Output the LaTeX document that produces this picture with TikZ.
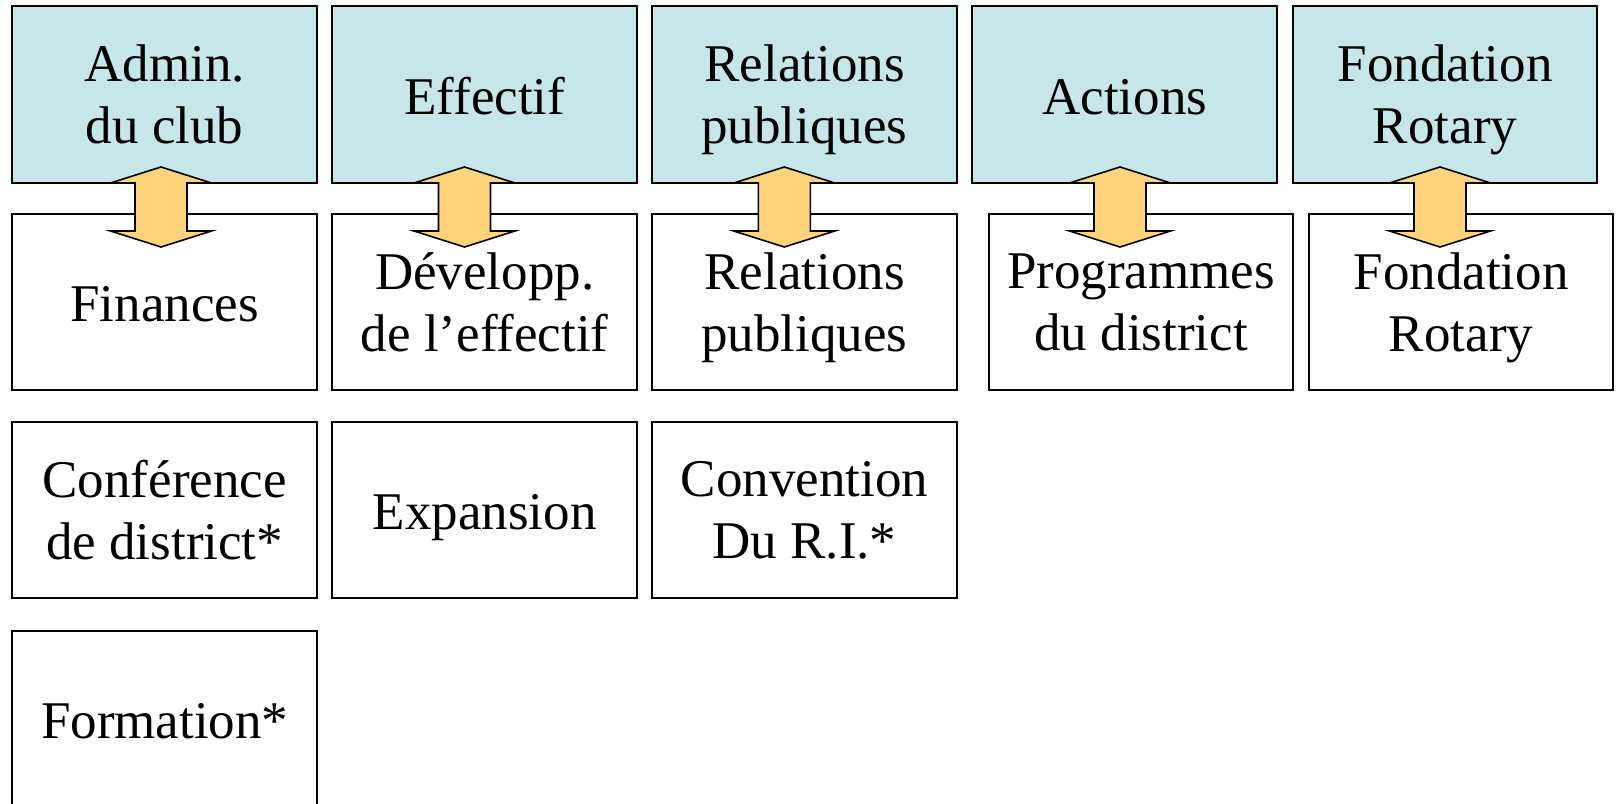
\documentclass[tikz,border=0pt]{standalone}
\usepackage{fontspec}
\setmainfont{Liberation Serif}
\definecolor{headblue}{RGB}{198,230,234}
\definecolor{arrowgold}{RGB}{255,212,122}

\begin{document}
\begin{tikzpicture}[x=0.5pt,y=-0.5pt,
        box/.style={draw=black,line width=1pt,minimum width=152.25pt,minimum height=88.25pt,inner sep=0pt,align=center,font=\fontsize{26.5}{31}\selectfont},
        headbox/.style={box,fill=headblue},
        oneline/.style={text height=19.5pt,text depth=0pt},
        twoway/.pic={\draw[line width=0.8pt,fill=arrowgold,line join=miter] (0,-40) -- (50.5,-24) -- (26,-24) -- (26,24) -- (50.5,24) -- (0,40) -- (-50.5,24) -- (-26,24) -- (-26,-24) -- (-50.5,-24) -- cycle;}]
        \useasboundingbox (0,0) rectangle (1616,803);
        % committees
        \node[headbox] (admin) at (164.7,94.5) {Admin.\\du club};
        \node[headbox,oneline] (effectif) at (484.7,94.5) {Effectif};
        \node[headbox] (relations) at (804.5,94.5) {Relations\\\smash{publiques}};
        \node[headbox,oneline] (actions) at (1124.7,94.5) {Actions};
        \node[headbox] (fondation) at (1445,94.5) {Fondation\\\smash{Rotary}};
        % sub-committees
        \node[box,oneline] (finances) at (164.7,302) {Finances};
        \node[box] (develop) at (484.7,302) {Développ.\\de l’effectif};
        \node[box] (relpub) at (804.5,302) {Relations\\\smash{publiques}};
        \node[box] (programmes) at (1141,302) {Programmes\\du district};
        \node[box] (fondrot) at (1461,302) {Fondation\\\smash{Rotary}};
        \node[box] (conference) at (164.7,510) {Conférence\\de district*};
        \node[box,oneline] (expansion) at (484.7,510) {Expansion};
        \node[box] (convention) at (804.5,510) {Convention\\Du R.I.*};
        \node[box,oneline] (formation) at (164.7,719) {Formation*};
        % links
        \coordinate (link1) at (161,207);
        \coordinate (link2) at (464.5,207);
        \coordinate (link3) at (784.3,207);
        \coordinate (link4) at (1120,207);
        \coordinate (link5) at (1440,207);
        \pic at (link1) {twoway};
        \pic at (link2) {twoway};
        \pic at (link3) {twoway};
        \pic at (link4) {twoway};
        \pic at (link5) {twoway};
    \end{tikzpicture}
\end{document}
